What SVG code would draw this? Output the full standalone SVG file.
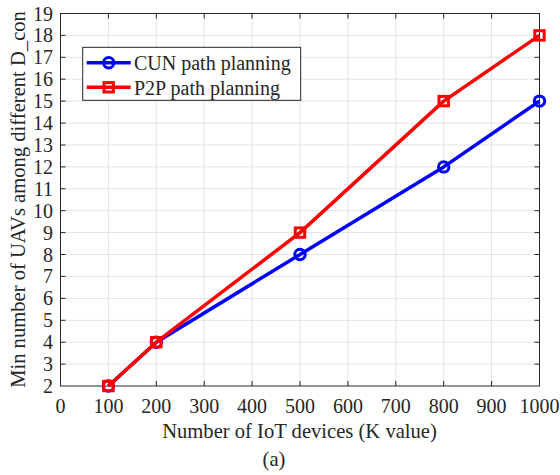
<svg xmlns="http://www.w3.org/2000/svg" width="560" height="475" viewBox="0 0 560 475">
<style>
text{font-family:"Liberation Serif","Times New Roman",Times,"DejaVu Serif",serif;font-size:20px;fill:#262626}
.lab{font-size:20.6px}
.grid{stroke:#e3e3e3;stroke-width:1;fill:none}
.axis{stroke:#262626;stroke-width:1;fill:none}
.tick{stroke:#262626;stroke-width:1}
.blue{stroke:#0000ff;stroke-width:3.5;fill:none;stroke-linejoin:round}
.red{stroke:#ff0000;stroke-width:3.5;fill:none;stroke-linejoin:round}
.cm{stroke:#0000ff;stroke-width:3;fill:none}
.sm{stroke:#ff0000;stroke-width:3;fill:none}
.yl{text-anchor:end}
.xl{text-anchor:middle}
</style>
<defs>
<circle id="circ" r="5.2" class="cm"/>
<rect id="sq" x="-4.7" y="-4.7" width="9.4" height="9.4" class="sm"/>
</defs>
<rect width="560" height="475" fill="#ffffff"/>
<g id="grid">
<path class="grid" d="M108.4 13.5V386M156.3 13.5V386M204.2 13.5V386M252.1 13.5V386M300 13.5V386M347.9 13.5V386M395.8 13.5V386M443.7 13.5V386M491.6 13.5V386"/>
<path class="grid" d="M60.5 364.1H539.5M60.5 342.2H539.5M60.5 320.3H539.5M60.5 298.4H539.5M60.5 276.4H539.5M60.5 254.5H539.5M60.5 232.6H539.5M60.5 210.7H539.5M60.5 188.8H539.5M60.5 166.9H539.5M60.5 145H539.5M60.5 123.1H539.5M60.5 101.1H539.5M60.5 79.2H539.5M60.5 57.3H539.5M60.5 35.4H539.5"/>
</g>
<g id="axes">
<rect class="axis" x="60.5" y="13.5" width="479" height="372.5"/>
<path class="tick" d="M108.4 386v-5M156.3 386v-5M204.2 386v-5M252.1 386v-5M300 386v-5M347.9 386v-5M395.8 386v-5M443.7 386v-5M491.6 386v-5M108.4 13.5v5M156.3 13.5v5M204.2 13.5v5M252.1 13.5v5M300 13.5v5M347.9 13.5v5M395.8 13.5v5M443.7 13.5v5M491.6 13.5v5"/>
<path class="tick" d="M60.5 364.1h5M60.5 342.2h5M60.5 320.3h5M60.5 298.4h5M60.5 276.4h5M60.5 254.5h5M60.5 232.6h5M60.5 210.7h5M60.5 188.8h5M60.5 166.9h5M60.5 145h5M60.5 123.1h5M60.5 101.1h5M60.5 79.2h5M60.5 57.3h5M60.5 35.4h5M539.5 364.1h-5M539.5 342.2h-5M539.5 320.3h-5M539.5 298.4h-5M539.5 276.4h-5M539.5 254.5h-5M539.5 232.6h-5M539.5 210.7h-5M539.5 188.8h-5M539.5 166.9h-5M539.5 145h-5M539.5 123.1h-5M539.5 101.1h-5M539.5 79.2h-5M539.5 57.3h-5M539.5 35.4h-5"/>
</g>
<g id="yticks">
<text class="yl" x="53" y="393">2</text>
<text class="yl" x="53" y="371.1">3</text>
<text class="yl" x="53" y="349.2">4</text>
<text class="yl" x="53" y="327.3">5</text>
<text class="yl" x="53" y="305.4">6</text>
<text class="yl" x="53" y="283.4">7</text>
<text class="yl" x="53" y="261.5">8</text>
<text class="yl" x="53" y="239.6">9</text>
<text class="yl" x="53" y="217.7">10</text>
<text class="yl" x="53" y="195.8">11</text>
<text class="yl" x="53" y="173.9">12</text>
<text class="yl" x="53" y="152">13</text>
<text class="yl" x="53" y="130.1">14</text>
<text class="yl" x="53" y="108.1">15</text>
<text class="yl" x="53" y="86.2">16</text>
<text class="yl" x="53" y="64.3">17</text>
<text class="yl" x="53" y="42.4">18</text>
<text class="yl" x="53" y="20.5">19</text>
</g>
<g id="xticks">
<text class="xl" x="60.5" y="413">0</text>
<text class="xl" x="108.4" y="413">100</text>
<text class="xl" x="156.3" y="413">200</text>
<text class="xl" x="204.2" y="413">300</text>
<text class="xl" x="252.1" y="413">400</text>
<text class="xl" x="300" y="413">500</text>
<text class="xl" x="347.9" y="413">600</text>
<text class="xl" x="395.8" y="413">700</text>
<text class="xl" x="443.7" y="413">800</text>
<text class="xl" x="491.6" y="413">900</text>
<text class="xl" x="539.5" y="413">1000</text>
</g>
<g id="labels">
<text class="xl lab" x="299.5" y="438">Number of IoT devices (K value)</text>
<text class="xl lab" transform="translate(25 199.5) rotate(-90)">Min number of UAVs among different D_con</text>
<text class="xl lab" x="274" y="466">(a)</text>
</g>
<g id="connectors">
<polyline id="cun-line" class="blue" points="108.4,386 156.3,342.2 300,254.5 443.7,166.9 539.5,101.1"/>
<g id="cun-markers">
<use href="#circ" x="108.4" y="386"/>
<use href="#circ" x="156.3" y="342.2"/>
<use href="#circ" x="300" y="254.5"/>
<use href="#circ" x="443.7" y="166.9"/>
<use href="#circ" x="539.5" y="101.1"/>
</g>
<polyline id="p2p-line" class="red" points="108.4,386 156.3,342.2 300,232.6 443.7,101.1 539.5,35.4"/>
<g id="p2p-markers">
<use href="#sq" x="108.4" y="386"/>
<use href="#sq" x="156.3" y="342.2"/>
<use href="#sq" x="300" y="232.6"/>
<use href="#sq" x="443.7" y="101.1"/>
<use href="#sq" x="539.5" y="35.4"/>
</g>
</g>
<g id="legend">
<rect x="82.7" y="47.3" width="218" height="53" fill="#ffffff" stroke="#262626" stroke-width="1"/>
<path class="blue" d="M86.7 62.7H130.7"/>
<use href="#circ" x="108.7" y="62.7"/>
<text x="134" y="70">CUN path planning</text>
<path class="red" d="M86.7 87.3H130.7"/>
<use href="#sq" x="108.7" y="87.3"/>
<text x="134" y="95">P2P path planning</text>
</g>
</svg>
